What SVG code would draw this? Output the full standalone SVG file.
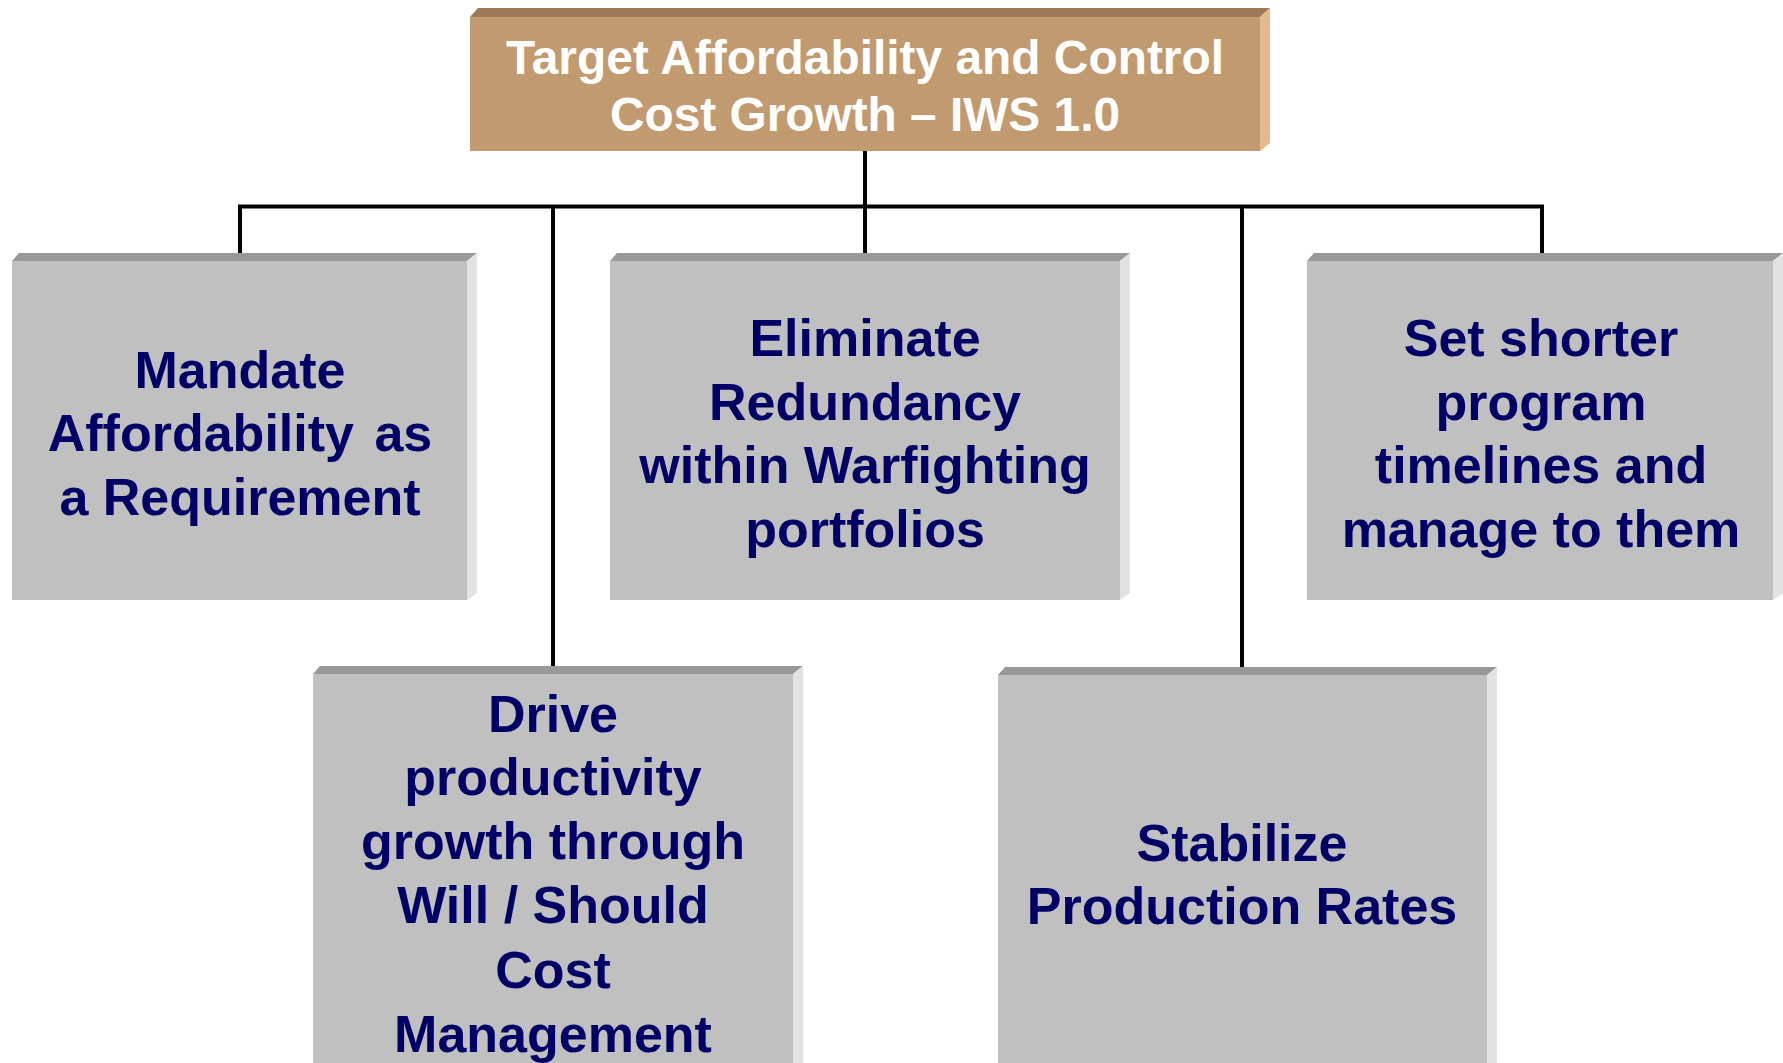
<svg xmlns="http://www.w3.org/2000/svg" width="1783" height="1063" viewBox="0 0 1783 1063">
<style>
.face{fill:#C0C0C0}
.top{fill:#999999}
.side{fill:#E2E2E2}
.tface{fill:#C19A6F}
.ttop{fill:#9C7A58}
.tside{fill:#E6B98A}
.lbl{font-family:"Liberation Sans",Arial,sans-serif;font-weight:bold;font-size:52px;fill:#000066;text-anchor:middle}
.tlbl{font-family:"Liberation Sans",Arial,sans-serif;font-weight:bold;font-size:48px;fill:#FFFFFF;text-anchor:middle}
.wire{fill:none;stroke:#000000;stroke-width:4}
</style>
<rect width="1783" height="1063" fill="#FFFFFF"/>
<g id="connectors">
<line class="wire" x1="865" y1="151" x2="865" y2="207" stroke-width="6"/>
<polyline class="wire" points="240,253 240,206.5 1542,206.5 1542,253"/>
<line class="wire" x1="865" y1="206" x2="865" y2="253"/>
<line class="wire" x1="553" y1="206" x2="553" y2="666"/>
<line class="wire" x1="1242" y1="206" x2="1242" y2="667"/>
</g>
<g id="top">
<polygon class="ttop" points="470,17 478,8 1270,8 1260,17"/>
<polygon class="tside" points="1260,17 1270,8 1270,143 1260,151"/>
<rect class="tface" x="470" y="17" width="790" height="134"/>
<text class="tlbl" x="865" y="74" textLength="718" lengthAdjust="spacingAndGlyphs">Target Affordability and Control</text>
<text class="tlbl" x="865" y="131" textLength="510" lengthAdjust="spacingAndGlyphs">Cost Growth – IWS 1.0</text>
</g>
<g id="mandate">
<polygon class="top" points="12,261 19,253 477,253 467,261"/>
<polygon class="side" points="467,261 477,253 477,593 467,600"/>
<rect class="face" x="12" y="261" width="455" height="339"/>
<text class="lbl" x="240" y="388">Mandate</text>
<text class="lbl" x="240" y="451" word-spacing="6">Affordability as</text>
<text class="lbl" x="240" y="515">a Requirement</text>
</g>
<g id="eliminate">
<polygon class="top" points="610,261 617,253 1130,253 1120,261"/>
<polygon class="side" points="1120,261 1130,253 1130,593 1120,600"/>
<rect class="face" x="610" y="261" width="510" height="339"/>
<text class="lbl" x="865" y="356">Eliminate</text>
<text class="lbl" x="865" y="420">Redundancy</text>
<text class="lbl" x="865" y="483">within Warfighting</text>
<text class="lbl" x="865" y="547">portfolios</text>
</g>
<g id="shorter">
<polygon class="top" points="1307,261 1314,253 1783,253 1773,261"/>
<polygon class="side" points="1773,261 1783,253 1783,593 1773,600"/>
<rect class="face" x="1307" y="261" width="466" height="339"/>
<text class="lbl" x="1541" y="356">Set shorter</text>
<text class="lbl" x="1541" y="420">program</text>
<text class="lbl" x="1541" y="483">timelines and</text>
<text class="lbl" x="1541" y="547">manage to them</text>
</g>
<g id="drive">
<polygon class="top" points="313,674 320,666 803,666 793,674"/>
<polygon class="side" points="793,674 803,666 803,1080 793,1080"/>
<rect class="face" x="313" y="674" width="480" height="406"/>
<text class="lbl" x="553" y="732">Drive</text>
<text class="lbl" x="553" y="795">productivity</text>
<text class="lbl" x="553" y="859">growth through</text>
<text class="lbl" x="553" y="923">Will / Should</text>
<text class="lbl" x="553" y="988">Cost</text>
<text class="lbl" x="553" y="1052">Management</text>
</g>
<g id="stabilize">
<polygon class="top" points="998,675 1005,667 1497,667 1487,675"/>
<polygon class="side" points="1487,675 1497,667 1497,1080 1487,1080"/>
<rect class="face" x="998" y="675" width="489" height="405"/>
<text class="lbl" x="1242" y="861">Stabilize</text>
<text class="lbl" x="1242" y="924">Production Rates</text>
</g>
</svg>
